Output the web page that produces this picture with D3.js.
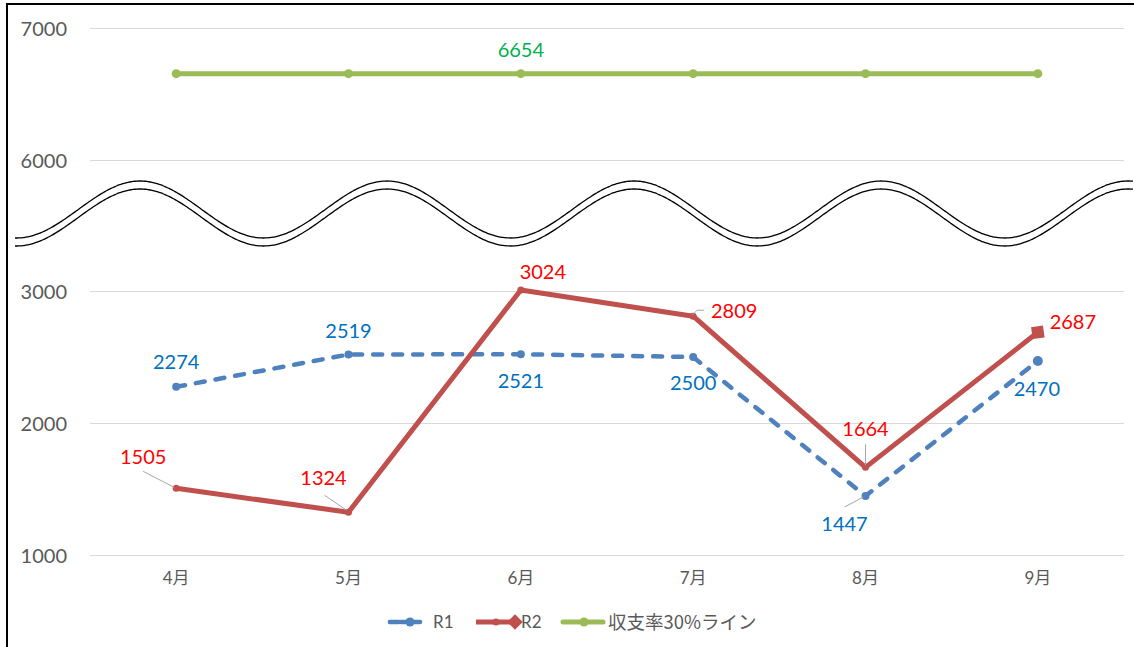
<!DOCTYPE html>
<html><head><meta charset="utf-8">
<script src="https://cdn.jsdelivr.net/npm/d3@7/dist/d3.min.js"></script>
<style>
html,body{margin:0;padding:0;background:#fff;}
svg{display:block;font-family:Lato,"Noto Sans CJK JP",sans-serif;}
</style></head><body>
<svg id="c" width="1134" height="647"></svg>
<script>
const categories = ["4月","5月","6月","7月","8月","9月"];
const r1 = [2274, 2519, 2521, 2500, 1447, 2470];
const r2 = [1505, 1324, 3024, 2809, 1664, 2687];
const line30 = [6654, 6654, 6654, 6654, 6654, 6654];
const yTicks = [1000, 2000, 3000, 6000, 7000];
const seriesNames = ["R1", "R2", "収支率30%ライン"];

const svg = d3.select("#c");
const x = d3.scaleBand().domain(categories).range([90, 1124]);
const cx = d => x(d) + x.bandwidth()/2;
// broken axis: 3000 -> 6000 compressed into one grid step
const y = d3.scaleLinear().domain([1000, 3000, 6000, 7000]).range([555, 291, 160, 28]);

const C1 = "#4F81BD", C2 = "#C0504D", C3 = "#9BBB59";
const L1 = "#0070C0", L2 = "#FF0000", L3 = "#00B050";
const gray = "#595959";

// frame
svg.append("line").attr("x1",7).attr("x2",7).attr("y1",3).attr("y2",647).attr("stroke","#000").attr("stroke-width",2);
svg.append("line").attr("x1",6).attr("x2",1134).attr("y1",4).attr("y2",4).attr("stroke","#000").attr("stroke-width",2);

// gridlines + y axis labels
const yAxis = d3.axisLeft(y).tickValues(yTicks).tickSize(-(1124-90)).tickPadding(23).tickFormat(d3.format("d"));
const gy = svg.append("g").attr("transform","translate(90,0)").call(yAxis);
gy.select(".domain").remove();
gy.selectAll(".tick line").attr("stroke","#d9d9d9").attr("stroke-width",1).attr("shape-rendering","crispEdges");
gy.selectAll(".tick text").attr("fill",gray).attr("font-size",20).attr("font-family","Lato, sans-serif").attr("dy","0.36em");

// x axis labels
const xAxis = d3.axisBottom(x).tickSize(0).tickPadding(17);
const gx = svg.append("g").attr("transform","translate(0,555)").call(xAxis);
gx.select(".domain").remove();
gx.selectAll(".tick text").attr("fill",gray).attr("font-size",17).attr("font-family","Lato, 'Noto Sans CJK JP', sans-serif");

// break wave
const wavePts = d3.range(15, 1134.5, 2);
const mid = xx => 213.5 - 28.5*Math.cos(2*Math.PI*(xx-140)/247);
const area = d3.area().x(d=>d).y0(d=>mid(d)-4).y1(d=>mid(d)+4).curve(d3.curveBasis);
svg.append("path").datum(wavePts).attr("d",area).attr("fill","#fff");
const lu = d3.line().x(d=>d).y(d=>mid(d)-4).curve(d3.curveBasis);
const ll = d3.line().x(d=>d).y(d=>mid(d)+4).curve(d3.curveBasis);
svg.append("path").datum(wavePts).attr("d",lu).attr("fill","none").attr("stroke","#000").attr("stroke-width",1.3);
svg.append("path").datum(wavePts).attr("d",ll).attr("fill","none").attr("stroke","#000").attr("stroke-width",1.3);

const line = d3.line().x((d,i)=>cx(categories[i])).y(d=>y(d));

// R1
svg.append("path").datum(r1).attr("d",line).attr("fill","none").attr("stroke",C1)
  .attr("stroke-width",4.5).attr("stroke-dasharray","9,11").attr("stroke-linecap","round").attr("stroke-linejoin","round");
svg.selectAll(".m1").data(r1).join("circle").attr("cx",(d,i)=>cx(categories[i])).attr("cy",d=>y(d))
  .attr("r",(d,i)=>i===5?5:4).attr("fill",C1);

// R2
svg.append("path").datum(r2).attr("d",line).attr("fill","none").attr("stroke",C2)
  .attr("stroke-width",5).attr("stroke-linejoin","round");
svg.selectAll(".m2").data(r2.slice(0,5)).join("circle").attr("cx",(d,i)=>cx(categories[i])).attr("cy",d=>y(d))
  .attr("r",3.5).attr("fill",C2);
svg.append("rect").attr("x",-6).attr("y",-6).attr("width",12).attr("height",12).attr("fill",C2)
  .attr("transform",`translate(${cx(categories[5])},${y(r2[5])}) rotate(-8)`);

// green line
svg.append("path").datum(line30).attr("d",line).attr("fill","none").attr("stroke",C3).attr("stroke-width",5);
svg.selectAll(".m3").data(line30).join("circle").attr("cx",(d,i)=>cx(categories[i])).attr("cy",d=>y(d))
  .attr("r",4.5).attr("fill",C3);

// data labels: offsets relative to point (dx, dy of text center), optional leader
const lab1 = [[0,-25],[0,-24],[0,27],[0,26],[-21,28],[-1,28]];
const lab2 = [[-33,-32],[-25,-34],[22,-18],[41,-5],[0,-39],[35,-11]];
function labels(vals, offs, color){
  svg.selectAll(null).data(vals).join("text")
    .attr("x",(d,i)=>cx(categories[i])+offs[i][0]).attr("y",(d,i)=>y(d)+offs[i][1])
    .attr("text-anchor","middle").attr("dy","0.36em").attr("font-size",20).attr("fill",color)
    .attr("font-family","Lato, sans-serif").text(d=>d);
}
labels(r1, lab1, L1);
labels(r2, lab2, L2);
svg.append("text").attr("x",cx(categories[2])).attr("y",y(line30[2])-24).attr("dy","0.36em")
  .attr("text-anchor","middle").attr("font-size",20).attr("fill",L3).attr("font-family","Lato, sans-serif").text(line30[2]);

// leader lines
const leaders = [
  [[cx(categories[0])-33, y(r2[0])-17],[cx(categories[0])-2, y(r2[0])-1]],
  [[cx(categories[1])-24, y(r2[1])-17],[cx(categories[1])-2, y(r2[1])-2]],
  [[cx(categories[3])-1, y(r2[3])-1],[cx(categories[3])+4, y(r2[3])-6],[cx(categories[3])+11, y(r2[3])-6]],
  [[cx(categories[4]), y(r2[4])-23],[cx(categories[4]), y(r2[4])-2]],
  [[cx(categories[4])-21, y(r1[4])+11],[cx(categories[4])-2, y(r1[4])+1]]
];
svg.selectAll(null).data(leaders).join("path").attr("d",d3.line()).attr("fill","none")
  .attr("stroke","#a6a6a6").attr("stroke-width",1);

// legend
const lg = svg.append("g").attr("transform","translate(0,622)");
lg.append("line").attr("x1",390).attr("x2",422).attr("stroke",C1).attr("stroke-width",4.5)
  .attr("stroke-dasharray","0,11,9,20").attr("stroke-linecap","round");
lg.append("line").attr("x1",390).attr("x2",399).attr("stroke",C1).attr("stroke-width",4.5).attr("stroke-linecap","round");
lg.append("line").attr("x1",408).attr("x2",420).attr("stroke",C1).attr("stroke-width",4.5).attr("stroke-linecap","round");
lg.append("circle").attr("cx",410).attr("r",4.5).attr("fill",C1);
lg.append("text").attr("x",433).attr("dy","0.36em").attr("font-size",17).attr("fill",gray).text(seriesNames[0]);
lg.append("line").attr("x1",476).attr("x2",516).attr("stroke",C2).attr("stroke-width",5);
lg.append("circle").attr("cx",496).attr("r",3.5).attr("fill",C2);
lg.append("rect").attr("x",-5.5).attr("y",-5.5).attr("width",11).attr("height",11).attr("fill",C2)
  .attr("transform","translate(515,0) rotate(45)");
lg.append("text").attr("x",521).attr("dy","0.36em").attr("font-size",17).attr("fill",gray).text(seriesNames[1]);
lg.append("line").attr("x1",563).attr("x2",603).attr("stroke",C3).attr("stroke-width",5).attr("stroke-linecap","round");
lg.append("circle").attr("cx",584).attr("r",4.5).attr("fill",C3);
lg.append("text").attr("x",608).attr("dy","0.36em").attr("font-size",18.5).attr("fill",gray)
  .attr("font-family","'Noto Sans CJK JP', sans-serif").text(seriesNames[2]);
</script>
</body></html>
